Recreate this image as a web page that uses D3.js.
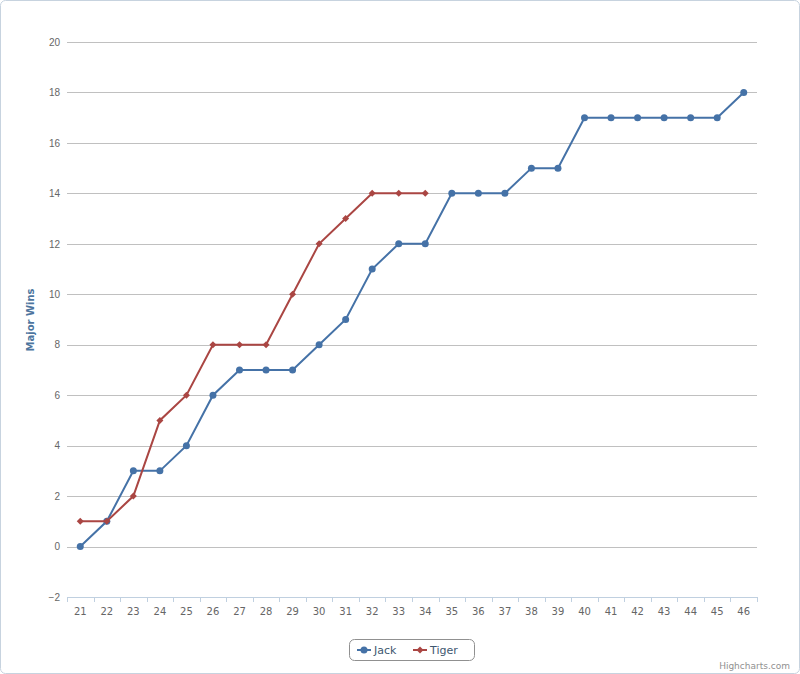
<!DOCTYPE html>
<html><head><meta charset="utf-8">
<script src="https://cdn.jsdelivr.net/npm/d3@7"></script>
<style>body{margin:0;background:#fff}svg{display:block;font-family:"DejaVu Sans",Verdana,sans-serif}</style>
</head><body>
<svg id="c" width="800" height="674"></svg>
<script>
const categories = [21,22,23,24,25,26,27,28,29,30,31,32,33,34,35,36,37,38,39,40,41,42,43,44,45,46];
const jack = [0,1,3,3,4,6,7,7,7,8,9,11,12,12,14,14,14,15,15,17,17,17,17,17,17,18];
const tiger = [1,1,2,5,6,8,8,8,10,12,13,14,14,14];
const yTicks = [-2,0,2,4,6,8,10,12,14,16,18,20];
const seriesNames = ["Jack","Tiger"];
const colors = ["#4572A7","#AA4643"];

const svg = d3.select("#c");
svg.append("rect").attr("x",0.5).attr("y",0.5).attr("width",799).attr("height",673)
  .attr("rx",5).attr("fill","#fff").attr("stroke","#c7d3df").attr("stroke-width",1);

const L=67, R=757, T=42, B=597;
const x = d3.scaleBand().domain(categories).range([L,R]);
const y = d3.scaleLinear().domain([-2,20]).range([B,T]);

// grid
svg.append("g").selectAll("line").data(yTicks.filter(d=>d!==-2)).join("line")
  .attr("x1",L).attr("x2",R).attr("y1",d=>Math.round(y(d))+0.5).attr("y2",d=>Math.round(y(d))+0.5)
  .attr("stroke","#c0c0c0").attr("stroke-width",1);

// y axis labels
const yAxis = d3.axisLeft(y).tickValues(yTicks).tickSize(0).tickPadding(8);
const gy = svg.append("g").attr("transform",`translate(${L},0)`).call(yAxis);
gy.select(".domain").remove();
gy.selectAll("text").attr("fill","#666").style("font-size","10px").attr("x",-7);

// x axis
const gx = svg.append("g").attr("transform",`translate(0,${B})`);
gx.append("line").attr("x1",L).attr("x2",R).attr("y1",0.5).attr("y2",0.5).attr("stroke","#C0D0E0");
const bounds = categories.map(c=>x(c)).concat([R]);
gx.selectAll("line.tick").data(bounds).join("line").attr("class","tick")
  .attr("x1",d=>Math.round(d)+0.5).attr("x2",d=>Math.round(d)+0.5).attr("y1",0).attr("y2",5)
  .attr("stroke","#C0D0E0");
gx.selectAll("text").data(categories).join("text")
  .attr("x",d=>x(d)+x.bandwidth()/2).attr("y",18).attr("text-anchor","middle")
  .attr("fill","#666").style("font-size","10px").text(d=>d);

// axis title
svg.append("text").attr("transform","translate(34,320) rotate(-90)").attr("text-anchor","middle")
  .attr("fill","#4d759e").style("font-size","10px").style("font-weight","bold").text("Major Wins");

const cx = i => x(categories[i]) + x.bandwidth()/2;
const line = d3.line().x((d,i)=>cx(i)).y(d=>y(d));

[jack,tiger].forEach((data,s)=>{
  const g = svg.append("g");
  g.append("path").attr("d",line(data)).attr("fill","none").attr("stroke",colors[s]).attr("stroke-width",2);
  if(s===0){
    g.selectAll("circle").data(data).join("circle").attr("cx",(d,i)=>cx(i)).attr("cy",d=>y(d)).attr("r",3.5).attr("fill",colors[s]);
  } else {
    g.selectAll("path.m").data(data).join("path").attr("class","m")
      .attr("d",(d,i)=>{const px=cx(i),py=y(d),r=3.5;return `M${px},${py-r}L${px+r},${py}L${px},${py+r}L${px-r},${py}Z`;})
      .attr("fill",colors[s]);
  }
});

// legend
const lg = svg.append("g");
lg.append("rect").attr("x",349.5).attr("y",639.5).attr("width",125).attr("height",21).attr("rx",5)
  .attr("fill","#fff").attr("stroke","#909090");
const items=[{x:357},{x:413}];
seriesNames.forEach((n,i)=>{
  const ix = items[i].x;
  lg.append("line").attr("x1",ix).attr("x2",ix+14).attr("y1",650).attr("y2",650).attr("stroke",colors[i]).attr("stroke-width",2);
  if(i===0) lg.append("circle").attr("cx",ix+7).attr("cy",650).attr("r",3.5).attr("fill",colors[i]);
  else lg.append("path").attr("d",`M${ix+7},646.5L${ix+10.5},650L${ix+7},653.5L${ix+3.5},650Z`).attr("fill",colors[i]);
  lg.append("text").attr("x",ix+17).attr("y",654).attr("fill","#3e576f").style("font-size","11px").text(n);
});

svg.append("text").attr("x",790).attr("y",669).attr("text-anchor","end").attr("fill","#909090")
  .style("font-size","9px").text("Highcharts.com");
</script>
</body></html>
